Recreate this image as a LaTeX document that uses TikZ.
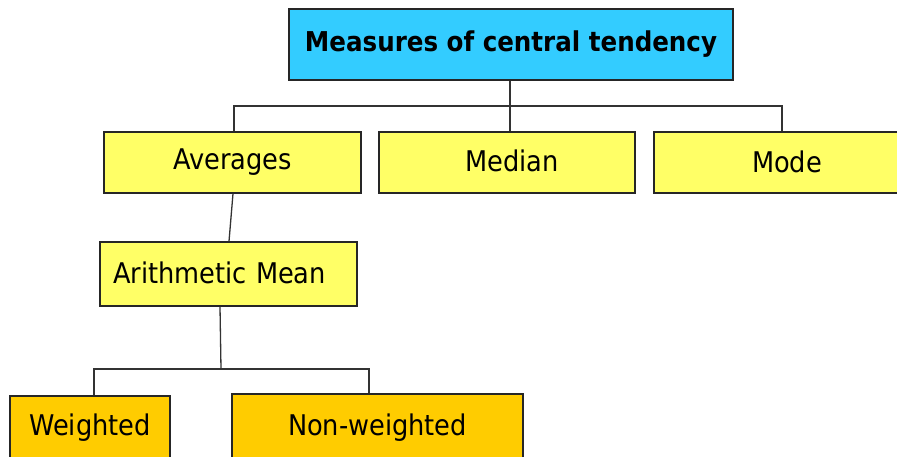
\documentclass[tikz,border=0pt]{standalone}
\usepackage{fontspec}
\setmainfont{DejaVu Sans Condensed}
\begin{document}
\begin{tikzpicture}[x=1pt,y=-1pt,
  box/.style={draw=black!85,line width=1.3pt,inner sep=0pt,
    font=\fontsize{28.5}{32}\selectfont,text=black},
  topbox/.style={box,fill=topcyan,font=\bfseries\fontsize{27.3}{31}\selectfont},
  midbox/.style={box,fill=midyellow},
  lowbox/.style={box,fill=loworange},
  link/.style={draw=black!80,line width=1.3pt}]
\definecolor{topcyan}{HTML}{33CCFF}
\definecolor{midyellow}{HTML}{FFFF66}
\definecolor{loworange}{HTML}{FFCC00}
\useasboundingbox (0,0) rectangle (897,457);
\clip (0,0) rectangle (897,457);
% boxes
\node[topbox,minimum width=444pt,minimum height=71pt] (top) at (511,44.5) {Measures of central tendency};
\node[midbox,minimum width=257pt,minimum height=61pt] (avg) at (232.5,162.5) {Averages};
\node[midbox,minimum width=256pt,minimum height=61pt] (med) at (507,162.5) {\hspace*{10pt}\raisebox{3pt}{Median}};
\node[midbox,minimum width=266pt,minimum height=61pt] (mode) at (787,162.5) {\raisebox{2pt}{Mode}};
\node[midbox,text width=231pt,inner xsep=13pt,align=left,minimum height=64pt] (am) at (228.5,274) {\raisebox{2pt}{Arithmetic Mean}};
\node[lowbox,minimum width=160pt,minimum height=80pt] (wt) at (90,436) {\raisebox{22pt}{Weighted}};
\node[lowbox,minimum width=291pt,minimum height=80pt] (nwt) at (377.5,434) {\raisebox{18pt}{Non-weighted}};
% connectors
\coordinate (j1) at (510,106);
\draw[link] (top.south -| j1) -- (j1);
\draw[link] (avg.north -| 234,0) |- (j1) -| (mode.north -| 782,0);
\draw[link] (j1) -- (med.north -| j1);
\draw[link] (avg.south -| 233,0) -- (am.north -| 229,0);
\coordinate (j2) at (221,369);
\draw[link] (am.south -| 220,0) -- (j2);
\draw[link] (wt.north -| 94,0) |- (j2) -| (nwt.north -| 369,0);
\end{tikzpicture}
\end{document}
